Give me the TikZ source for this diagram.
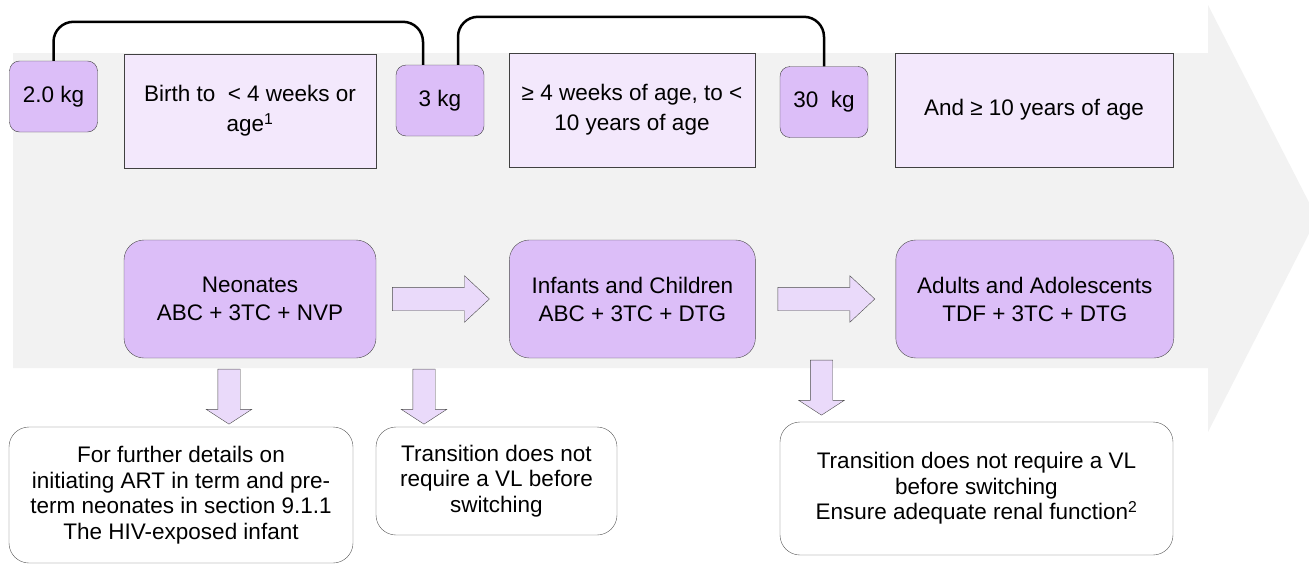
\documentclass[tikz,border=0pt]{standalone}
\usepackage{fontspec}
\setmainfont{Liberation Sans}
\usetikzlibrary{positioning, calc, shapes.arrows, backgrounds}

\definecolor{weightPurple}{RGB}{220,190,248}
\definecolor{ageLilac}{RGB}{243,232,252}
\definecolor{arrowLilac}{RGB}{234,218,250}
\definecolor{bandGrey}{RGB}{242,242,242}

\begin{document}
\begin{tikzpicture}[x=1pt, y=-1pt, node font=\fontsize{22.5}{25.5}\selectfont,
	weight/.style={draw=black!75, fill=weightPurple, rounded corners=10pt, minimum width=88pt, minimum height=71pt, inner sep=0pt},
	age/.style={draw=black!75, fill=ageLilac, minimum height=114pt, align=center, inner sep=0pt, font=\fontsize{22.5}{30}\selectfont},
	regimen/.style={draw=black!70, fill=weightPurple, rounded corners=20pt, minimum height=118pt, align=center, inner sep=0pt, font=\fontsize{22.5}{28}\selectfont},
	note/.style={draw=black!65, fill=white, rounded corners=20pt, align=center, inner sep=0pt},
	fatArrow/.style={single arrow, draw=black!70, fill=arrowLilac, inner sep=11.5pt, single arrow head extend=11.5pt, minimum height=97pt, single arrow tip angle=86},
	downArrow/.style={single arrow, draw=black!70, fill=arrowLilac, inner sep=11pt, shape border rotate=270, single arrow head extend=11.5pt, minimum height=55pt, single arrow tip angle=114},
	bracket/.style={draw=black, line width=2.5pt, rounded corners=20pt}]
	\useasboundingbox (0,0) rectangle (1309,565);
	
	% weights and ages along the top
	\node[weight] (kgTwo) at (53.5,96.5) {2.0 kg};
	\node[age, minimum width=252pt] (ageBirth) at (250,111) {Birth to~ < 4 weeks or\\age\textsuperscript{1}};
	\node[weight] (kgThree) at (440,100.5) {3 kg};
	\node[age, minimum width=246pt] (ageChild) at (632,110) {≥ 4 weeks of age, to <\\10 years of age};
	\node[weight] (kgThirty) at (824,102) {30~ kg};
	\node[age, minimum width=278pt] (ageAdult) at (1034,110) {And ≥ 10 years of age};
	
	\draw[bracket] (kgTwo.north) -- ++(0,-39) -| ($(kgThree.north)+(-17,0)$);
	\draw[bracket] ($(kgThree.north)+(18,0)$) -- ++(0,-48) -| (kgThirty.north);
	
	% regimens
	\node[regimen, minimum width=252pt] (neonates) at (250,299) {Neonates\\ABC + 3TC + NVP};
	\node[regimen, minimum width=246pt, right=133pt of neonates] (infants) {Infants and Children\\ABC + 3TC + DTG};
	\node[regimen, minimum width=278pt, right=140pt of infants] (adults) {Adults and Adolescents\\TDF + 3TC + DTG};
	
	\node[fatArrow, right=16pt of neonates] (neoToInf) {};
	\node[fatArrow, right=22pt of infants] (infToAdu) {};
	
	% notes below
	\node[downArrow] (downNeo) at (229,393) {};
	\node[downArrow] (downInf) at (424,393) {};
	\node[downArrow] (downAdu) at (821.5,384) {};
	
	\node[note, minimum width=344pt, minimum height=136pt] (noteNeo) at (181,495) {For further details on\\initiating ART in term and pre-\\term neonates in section 9.1.1\\The HIV-exposed infant};
	\node[note, minimum width=241pt, minimum height=108pt] (noteInf) at (496.5,481) {Transition does not\\require a VL before\\switching};
	\node[note, minimum width=393pt, minimum height=133pt] (noteAdu) at (976.5,488.5) {Transition does not require a VL\\before switching\\Ensure adequate renal function\textsuperscript{2}};
	
	\begin{scope}[on background layer]
	\fill[bandGrey] (13,53) -- (1208,53) -- (1208,5) -- (1317,218) -- (1208,432) -- (1208,368) -- (13,368) -- cycle;
	\end{scope}
	
\end{tikzpicture}
\end{document}
